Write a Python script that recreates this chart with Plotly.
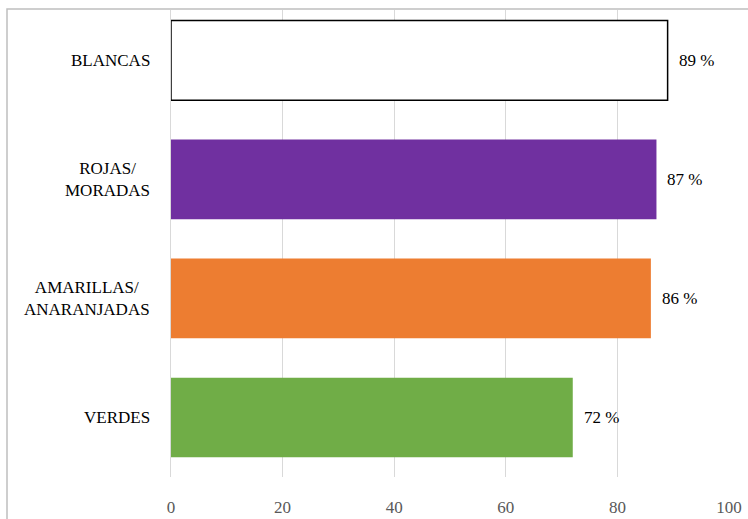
import plotly.graph_objects as go

categories = ["VERDES", "AMARILLAS/<br>ANARANJADAS", "ROJAS/<br>MORADAS", "BLANCAS"]
values = [72, 86, 87, 89]
bar_colors = ["#70AD47", "#ED7D31", "#7030A0", "#FFFFFF"]
line_colors = ["rgba(0,0,0,0)", "rgba(0,0,0,0)", "rgba(0,0,0,0)", "#000000"]
x_ticks = [0, 20, 40, 60, 80, 100]

FONT = "Liberation Serif"
W, H = 748, 519
L, R, T, B = 171, 748 - 729, 10, 519 - 477
pw, ph = W - L - R, H - T - B

fig = go.Figure()
fig.add_trace(go.Bar(
    x=values, y=categories, orientation="h",
    marker=dict(color=bar_colors, line=dict(color=line_colors, width=1.5)),
    width=0.67, hoverinfo="skip",
))

annotations = []
for c, v in zip(categories, values):
    annotations.append(dict(x=v, y=c, xref="x", yref="y", text=f"{v} %",
                            showarrow=False, xanchor="left", xshift=9,
                            font=dict(family=FONT, size=17, color="#000000")))
    annotations.append(dict(x=(152 - L) / pw, y=c, xref="paper", yref="y", text=c,
                            showarrow=False, xanchor="right", align="center",
                            font=dict(family=FONT, size=17, color="#000000")))

fig.update_layout(
    width=W, height=H,
    margin=dict(l=L, r=R, t=T, b=B, pad=0, autoexpand=False),
    paper_bgcolor="white", plot_bgcolor="white",
    showlegend=False,
    font=dict(family=FONT),
    xaxis=dict(range=[0, 100], tickvals=x_ticks, showgrid=True, gridcolor="#D9D9D9",
               gridwidth=1, zeroline=False, showline=False, ticks="",
               tickfont=dict(family=FONT, size=17, color="#595959"), ticklen=0,
               ticklabelstandoff=18, automargin=False, fixedrange=True),
    yaxis=dict(type="category", categoryorder="array", categoryarray=categories,
               range=[-0.5, 3.424], showticklabels=False, showgrid=False,
               zeroline=False, showline=True, linecolor="#D9D9D9", linewidth=1,
               ticks="", automargin=False),
    annotations=annotations,
    shapes=[dict(type="rect", xref="paper", yref="paper",
                 x0=(7 - L) / pw, x1=1.2, y0=-0.3, y1=(H - B - 9) / ph,
                 line=dict(color="#BFBFBF", width=1.5), fillcolor="rgba(0,0,0,0)",
                 layer="above")],
)

fig.write_html("out.html")
